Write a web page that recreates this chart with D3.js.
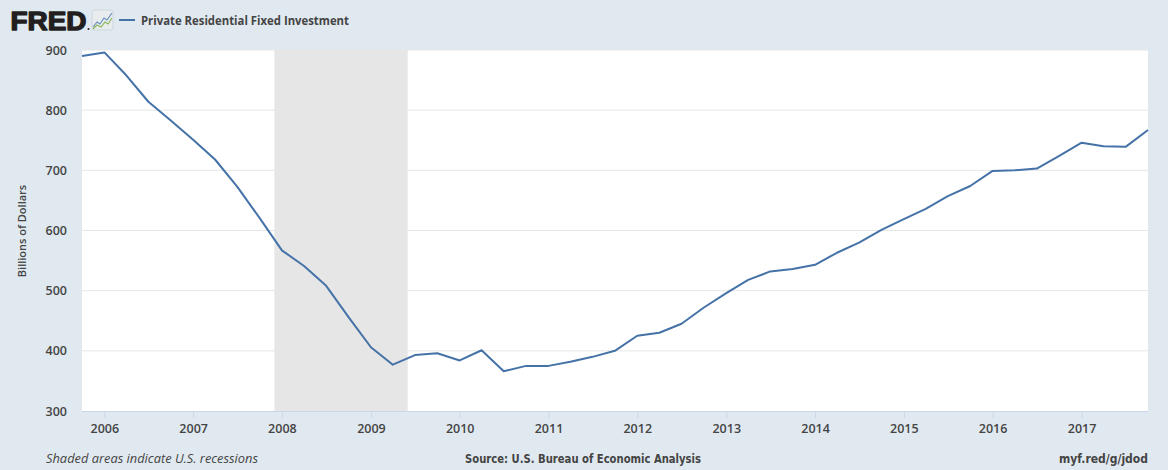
<!DOCTYPE html>
<html><head><meta charset="utf-8">
<script src="https://cdn.jsdelivr.net/npm/d3@7"></script>
<style>
html,body{margin:0;padding:0;background:#e1e9f0;}
svg{display:block;}
</style></head>
<body>
<svg id="chart" width="1168" height="470"></svg>
<script>
const quarters = ["2005-10-01","2006-01-01","2006-04-01","2006-07-01","2006-10-01","2007-01-01","2007-04-01","2007-07-01","2007-10-01",
"2008-01-01","2008-04-01","2008-07-01","2008-10-01","2009-01-01","2009-04-01","2009-07-01","2009-10-01",
"2010-01-01","2010-04-01","2010-07-01","2010-10-01","2011-01-01","2011-04-01","2011-07-01","2011-10-01",
"2012-01-01","2012-04-01","2012-07-01","2012-10-01","2013-01-01","2013-04-01","2013-07-01","2013-10-01",
"2014-01-01","2014-04-01","2014-07-01","2014-10-01","2015-01-01","2015-04-01","2015-07-01","2015-10-01",
"2016-01-01","2016-04-01","2016-07-01","2016-10-01","2017-01-01","2017-04-01","2017-07-01","2017-10-01"];
const values = [890,896,858,814,783,751,718,673,621,
567,541,508,456,406,377,393,396,
384,401,366,375,375,382,390,400,
425,430,445,472,496,518,532,536,
543,563,580,601,619,636,657,674,
699,700,703,724,746,740,739,767];
const recessions = [["2007-12-01","2009-06-01"]];
const yTicks = [300,400,500,600,700,800,900];
const xTickYears = [2006,2007,2008,2009,2010,2011,2012,2013,2014,2015,2016,2017];
const seriesName = "Private Residential Fixed Investment";
const yLabel = "Billions of Dollars";

const parse = d3.timeParse("%Y-%m-%d");
const data = quarters.map((q,i)=>({date:parse(q), value:values[i]}));

const svg = d3.select("#chart");
const L=82, R=1148, T=50, B=411;
const x = d3.scaleTime().domain([parse("2005-10-01"), parse("2017-10-01")]).range([L,R]);
const y = d3.scaleLinear().domain([300,900]).range([B,T]);
const font = "'Open Sans', 'DejaVu Sans', sans-serif";

// plot background
svg.append("rect").attr("x",L).attr("y",T).attr("width",R-L).attr("height",B-T).attr("fill","#ffffff");

// recessions
svg.selectAll("rect.rec").data(recessions).enter().append("rect")
  .attr("x",d=>x(parse(d[0]))).attr("y",T)
  .attr("width",d=>x(parse(d[1]))-x(parse(d[0]))).attr("height",B-T)
  .attr("fill","#e6e6e6");

// gridlines
svg.selectAll("line.grid").data(yTicks.filter(v=>v>300)).enter().append("line")
  .attr("x1",L).attr("x2",R).attr("y1",d=>y(d)).attr("y2",d=>y(d))
  .attr("stroke","#e6e6e6").attr("stroke-width",1);

// y axis labels
const yAxis = d3.axisLeft(y).tickValues(yTicks).tickSize(0).tickPadding(15);
const gy = svg.append("g").attr("transform",`translate(${L},0)`).call(yAxis);
gy.select(".domain").remove();
gy.selectAll("text").attr("font-family",font).attr("font-size","12.5px").attr("font-weight","600").attr("fill","#444");

// x axis
const xAxis = d3.axisBottom(x).tickValues(xTickYears.map(yy=>new Date(yy,0,1)))
  .tickFormat(d3.timeFormat("%Y")).tickSize(7).tickPadding(6);
const gx = svg.append("g").attr("transform",`translate(0,${B})`).call(xAxis);
gx.select(".domain").attr("stroke","#ccd6eb").attr("d",`M${L},0.5H${R}`);
gx.selectAll(".tick line").attr("stroke","#ccd6eb");
gx.selectAll("text").attr("font-family",font).attr("font-size","12.5px").attr("font-weight","600").attr("fill","#444");

// line
const line = d3.line().x(d=>x(d.date)).y(d=>y(d.value));
svg.append("path").datum(data).attr("d",line).attr("fill","none")
  .attr("stroke","#4572a7").attr("stroke-width",2).attr("stroke-linejoin","round");

// y label
svg.append("text").attr("transform","translate(26,231) rotate(-90)").attr("text-anchor","middle")
  .attr("font-family",font).attr("font-size","11px").attr("font-weight","600").attr("fill","#444").text(yLabel);

// header: FRED logo
svg.append("text").attr("x",10.5).attr("y",29.5).attr("font-family","'Liberation Sans', Arial, sans-serif")
  .attr("font-size","25px").attr("font-weight","700").attr("fill","#231f20")
  .attr("stroke","#231f20").attr("stroke-width",1.3).attr("stroke-linejoin","round")
  .attr("textLength",76).attr("lengthAdjust","spacingAndGlyphs").text("FRED");
svg.append("circle").attr("cx",88.5).attr("cy",29).attr("r",1).attr("fill","#231f20");
const icon = svg.append("g");
icon.append("rect").attr("x",92).attr("y",10).attr("width",21).attr("height",20).attr("rx",2).attr("fill","#e8ecef").attr("stroke","#cfd6dc");
icon.append("path").attr("d","M93,27 L97,22 L100,24 L104,18 L107,20 L112,13").attr("fill","none").attr("stroke","#6b8fba").attr("stroke-width",1.2);
icon.append("path").attr("d","M93,29 L97,25 L101,27 L105,22 L108,24 L112,18").attr("fill","none").attr("stroke","#8db85a").attr("stroke-width",1.2);

// legend
svg.append("line").attr("x1",119).attr("x2",135).attr("y1",20).attr("y2",20).attr("stroke","#4572a7").attr("stroke-width",2);
svg.append("text").attr("x",141).attr("y",24.5).attr("font-family",font).attr("font-size","12px").attr("font-weight","700")
  .attr("fill","#444").attr("textLength",208).attr("lengthAdjust","spacingAndGlyphs").text(seriesName);

// footer
svg.append("text").attr("x",46).attr("y",463).attr("font-family",font).attr("font-size","12px").attr("font-style","italic")
  .attr("fill","#444").attr("textLength",212).attr("lengthAdjust","spacingAndGlyphs").text("Shaded areas indicate U.S. recessions");
svg.append("text").attr("x",465).attr("y",463).attr("font-family","'DejaVu Sans Condensed', sans-serif").attr("font-size","12px").attr("font-weight","700")
  .attr("fill","#444").attr("textLength",236).attr("lengthAdjust","spacingAndGlyphs").text("Source: U.S. Bureau of Economic Analysis");
svg.append("text").attr("x",1148).attr("y",463).attr("text-anchor","end").attr("font-family","'DejaVu Sans Condensed', sans-serif").attr("font-size","12px").attr("font-weight","700")
  .attr("fill","#444").text("myf.red/g/jdod");
</script>
</body></html>
